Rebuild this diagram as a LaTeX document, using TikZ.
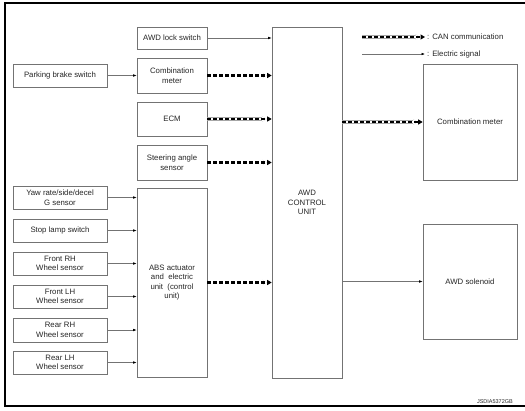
\documentclass[tikz,border=0pt]{standalone}
\usepackage{fontspec}
\setmainfont{Liberation Sans}
\usetikzlibrary{arrows.meta}
\begin{document}
\begin{tikzpicture}[x=1pt,y=-1pt,
  box/.style={draw=black!55, line width=0.6pt, fill=white, align=center,
    text=black!85, inner sep=1pt, font=\fontsize{7.8}{9.6}\selectfont},
  elec/.style={draw=black!55, line width=0.6pt, -{Latex[color=black,length=3.5pt,width=2.6pt]}},
  can/.style={
    preaction={draw, line width=3.8pt, black!35, shorten >=5pt},
    preaction={draw, line width=2.4pt, white, shorten >=5pt},
    draw=black, line width=2.4pt, dash pattern=on 4pt off 2pt,
    -{Triangle[length=4.5pt,width=5pt]}},
  lbl/.style={anchor=west, text=black!85, inner sep=0pt, font=\fontsize{7.8}{9.6}\selectfont}
]
\useasboundingbox (0,0) rectangle (525,410);
% frame
\draw[line width=1.2pt] (525,3) -- (5,3) -- (5,406) -- (525,406);

% left column
\node[box, minimum width=94pt, minimum height=23pt] (pbs) at (60,75.5) {Parking brake switch};
\node[box, minimum width=94pt, minimum height=23pt] (yaw) at (60,197.5) {Yaw rate/side/decel\\G sensor};
\node[box, minimum width=94pt, minimum height=23pt] (stop) at (60,230.5) {Stop lamp switch};
\node[box, minimum width=94pt, minimum height=23pt] (frh) at (60,263.5) {Front RH\\Wheel sensor};
\node[box, minimum width=94pt, minimum height=23pt] (flh) at (60,296.5) {Front LH\\Wheel sensor};
\node[box, minimum width=94pt, minimum height=24pt] (rrh) at (60,330) {Rear RH\\Wheel sensor};
\node[box, minimum width=94pt, minimum height=23pt] (rlh) at (60,362.5) {Rear LH\\Wheel sensor};

% middle column
\node[box, minimum width=70pt, minimum height=22pt] (awdlock) at (172,38) {AWD lock switch};
\node[box, minimum width=70pt, minimum height=35pt] (cml) at (172,75.5) {Combination\\meter};
\node[box, minimum width=70pt, minimum height=34pt] (ecm) at (172,119) {ECM};
\node[box, minimum width=70pt, minimum height=35pt] (steer) at (172,162.5) {Steering angle\\sensor};
\node[box, minimum width=70pt, minimum height=189pt] (abs) at (172,282.5) {ABS actuator\\and~~electric\\unit~~(control\\unit)};

% control unit
\node[box, minimum width=70pt, minimum height=351pt] (awd) at (307,202.5) {AWD\\CONTROL\\UNIT};

% right column
\node[box, minimum width=94pt, minimum height=116pt] (cmr) at (470,122) {Combination meter};
\node[box, minimum width=94pt, minimum height=115pt] (sol) at (470,281.5) {AWD solenoid};

% legend
\coordinate (l1a) at (362,37);
\coordinate (l1b) at (425,37);
\coordinate (l2a) at (362,54);
\coordinate (l2b) at (425,54);
\draw[can] (l1a) -- (l1b);
\draw[elec] (l2a) -- (l2b);
\node[lbl] (t1) at (427,37) {: CAN communication};
\node[lbl] (t2) at (427,54) {: Electric signal};

% connectors
\draw[elec] (awdlock.east) -- (awdlock.east -| awd.west);
\draw[elec] (pbs.east) -- (pbs.east -| cml.west);
\draw[can] (cml.east) -- (cml.east -| awd.west);
\draw[can] (ecm.east) -- (ecm.east -| awd.west);
\draw[can] (steer.east) -- (steer.east -| awd.west);
\draw[can] (abs.east) -- (abs.east -| awd.west);
\foreach \n in {yaw,stop,frh,flh,rrh,rlh}
  \draw[elec] (\n.east) -- (\n.east -| abs.west);
\draw[can] (awd.east |- cmr.west) -- (cmr.west);
\draw[elec] (awd.east |- sol.west) -- (sol.west);

\node[anchor=east, inner sep=0pt, text=black!85, font=\fontsize{5.5}{6.5}\selectfont] (code) at (513,402) {JSDIA5372GB};
\end{tikzpicture}
\end{document}
